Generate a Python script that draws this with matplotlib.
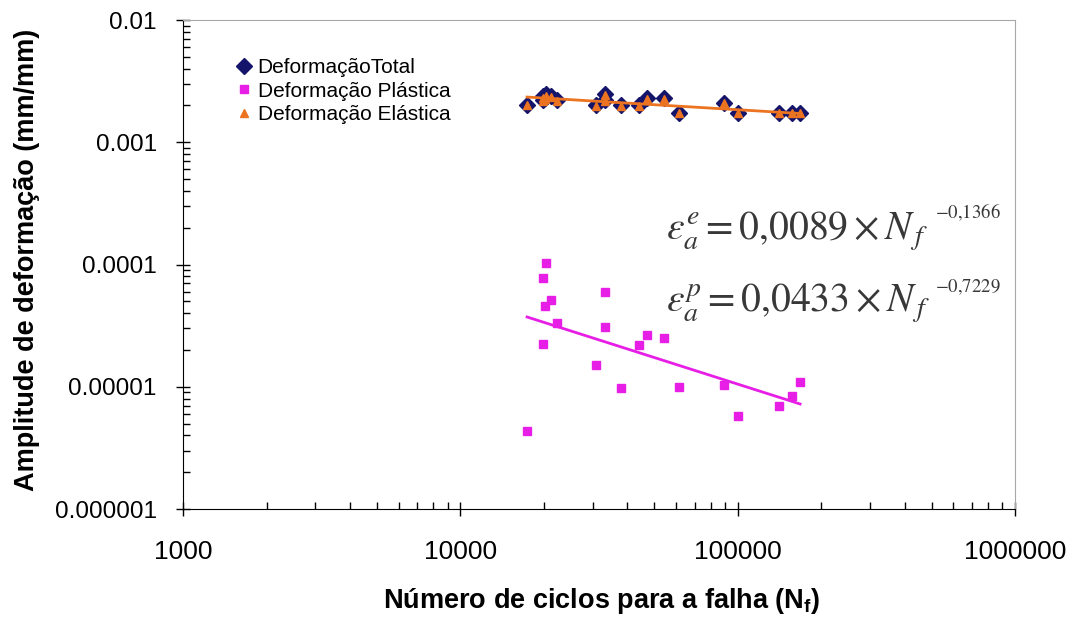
import numpy as np
import matplotlib
matplotlib.use("Agg")
import matplotlib.pyplot as plt
from matplotlib.ticker import FixedLocator, FuncFormatter, NullFormatter

plt.rcParams['font.family'] = ['Liberation Sans', 'DejaVu Sans']
plt.rcParams['mathtext.fontset'] = 'custom'
plt.rcParams['mathtext.rm'] = 'Liberation Sans'
plt.rcParams['mathtext.bf'] = 'Liberation Sans:bold'

# ciclos ate a falha
ciclos = [17400, 19860, 19860, 20210, 20300, 21230, 22330, 30860, 33250, 33250,
          37960, 44110, 47130, 54280, 61480, 89320, 100300, 141000, 157100, 167900]
# deformacao total, plastica e elastica (mm/mm)
def_total = [0.0020, 0.0024, 0.0022, 0.0023, 0.0025, 0.0024, 0.0022, 0.0020, 0.0025, 0.0022,
             0.0020, 0.0020, 0.0023, 0.0023, 0.00175, 0.0021, 0.00175, 0.00175, 0.00175, 0.00175]
def_plastica = [4.35e-6, 7.8e-5, 2.24e-5, 4.58e-5, 1.02e-4, 5.13e-5, 3.31e-5, 1.51e-5, 5.93e-5, 3.06e-5,
                9.7e-6, 2.20e-5, 2.65e-5, 2.49e-5, 9.9e-6, 1.03e-5, 5.77e-6, 6.96e-6, 8.4e-6, 1.10e-5]
def_elastica = [0.00200, 0.00232, 0.00218, 0.00225, 0.00240, 0.00235, 0.00217, 0.00199, 0.00244, 0.00217,
                0.00199, 0.00198, 0.00227, 0.00228, 0.00174, 0.00209, 0.00174, 0.00174, 0.00174, 0.00174]

# linhas de tendencia (potencia)
coef_e, exp_e = 0.0089, -0.1366
coef_p, exp_p = 0.0433, -0.7229

cor_total = '#14146b'
cor_plast = '#e61ee6'
cor_elast = '#ec7420'

fig = plt.figure(figsize=(10.71, 6.17), dpi=100)
ax = fig.add_axes([0.1709, 0.175, 0.7768, 0.7925])
ax.set_xscale('log')
ax.set_yscale('log')

n = np.geomspace(min(ciclos), max(ciclos), 50)

ax.plot(ciclos, def_total, ls='none', marker='D', ms=8, color=cor_total,
        label='DeformaçãoTotal', zorder=3)
ax.plot(n, coef_e * n ** exp_e, color=cor_elast, lw=2, zorder=4)
ax.plot(ciclos, def_plastica, ls='none', marker='s', ms=5.5, color=cor_plast,
        label='Deformação Plástica', zorder=3)
ax.plot(n, coef_p * n ** exp_p, color=cor_plast, lw=2, zorder=4)
ax.plot(ciclos, def_elastica, ls='none', marker='^', ms=6, color=cor_elast,
        label='Deformação Elástica', zorder=5)

ax.set_xlim(1e3, 1e6)
ax.set_ylim(1e-6, 1e-2)

xmaj = [1e3, 1e4, 1e5, 1e6]
ymaj = [1e-6, 1e-5, 1e-4, 1e-3, 1e-2]
ax.xaxis.set_major_locator(FixedLocator(xmaj))
ax.yaxis.set_major_locator(FixedLocator(ymaj))
ax.xaxis.set_major_formatter(FuncFormatter(lambda v, p: '%d' % round(v)))
ax.yaxis.set_major_formatter(FuncFormatter(
    lambda v, p: '%.*f' % (int(round(-np.log10(v))), v)))
xmin = [k * 10 ** d for d in range(3, 6) for k in range(2, 10)]
ymin = [k * 10.0 ** d for d in range(-6, -2) for k in range(2, 10)]
ax.xaxis.set_minor_locator(FixedLocator(xmin))
ax.yaxis.set_minor_locator(FixedLocator(ymin))
ax.xaxis.set_minor_formatter(NullFormatter())
ax.yaxis.set_minor_formatter(NullFormatter())

ax.tick_params(which='major', direction='inout', length=10, width=1, color='black')
ax.tick_params(which='minor', direction='in', length=5, width=1, color='black')
ax.tick_params(axis='x', which='major', pad=17, labelsize=19)
ax.tick_params(axis='y', which='major', pad=14, labelsize=17.5)

for s in ['top', 'right']:
    ax.spines[s].set_color('#a8a8a8')
for s in ['left', 'bottom']:
    ax.spines[s].set_color('black')

ax.set_xlabel(r'Número de ciclos para a falha (N$_\mathbf{f}$)', fontsize=19.5,
              fontweight='bold', va='center')
ax.xaxis.set_label_coords(0.503, -0.188)
ax.set_ylabel('Amplitude de deformação (mm/mm)', fontsize=19.5,
              fontweight='bold', va='center')
ax.yaxis.set_label_coords(-0.188, 0.509)

leg = ax.legend(loc='upper left', bbox_to_anchor=(0.222, 0.906),
                bbox_transform=fig.transFigure, frameon=False, fontsize=15,
                handlelength=0.6, handletextpad=0.35, labelspacing=0.22,
                borderpad=0, borderaxespad=0)

# equacoes das linhas de tendencia
cor_eq = '#383838'
fig.text(0.622, 1 - 240 / 617, r'$\varepsilon_a^e = 0{,}0089\times N_{\,f}$',
         fontsize=28.5, color=cor_eq, va='baseline', math_fontfamily='stix')
fig.text(0.873, 1 - 218 / 617, r'$-0{,}1366$', fontsize=13.5, color=cor_eq,
         va='baseline', math_fontfamily='stix')
fig.text(0.622, 1 - 312 / 617, r'$\varepsilon_a^p = 0{,}0433\times N_{\,f}$',
         fontsize=28.5, color=cor_eq, va='baseline', math_fontfamily='stix')
fig.text(0.873, 1 - 292 / 617, r'$-0{,}7229$', fontsize=13.5, color=cor_eq,
         va='baseline', math_fontfamily='stix')

fig.savefig('out.png', dpi=100)
